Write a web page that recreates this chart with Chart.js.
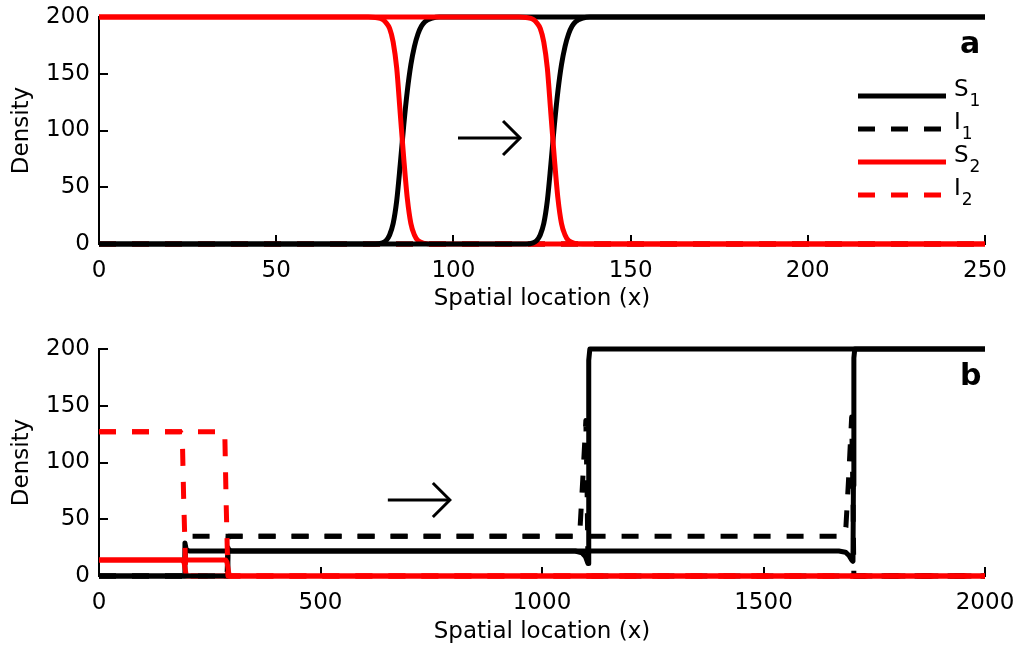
<!DOCTYPE html>
<html><head><meta charset="utf-8">
<script src="https://cdn.jsdelivr.net/npm/chart.js@4"></script>
<style>
html,body{margin:0;padding:0;background:#fff;}
#wrap{position:relative;width:1022px;height:655px;background:#fff;overflow:hidden;}
canvas{position:absolute;left:0;}
#ca{top:0;}
#cb{top:327px;}
</style></head><body>
<div id="wrap"><canvas id="ca" width="1022" height="327"></canvas><canvas id="cb" width="1022" height="328"></canvas></div>
<script>
// ---------- Panel a data (two snapshots of the travelling front) ----------
const aXTicks = [0, 50, 100, 150, 200, 250];
const yTicks = [0, 50, 100, 150, 200];
const aS1t1X = [0, 78, 80, 81, 82, 83, 84, 85, 86, 87, 88, 89, 90, 91, 92, 94, 96, 250];
const aS1t1Y = [0, 0, 1, 3, 8, 18, 38, 70, 105, 135, 158, 174, 185, 192, 196, 199, 200, 200];
const aS2t1X = [0, 76, 78, 80, 81, 82, 83, 84, 85, 86, 87, 88, 89, 90, 92, 94, 250];
const aS2t1Y = [200, 200, 199.5, 198, 195, 190, 178, 155, 115, 75, 40, 18, 8, 3, 0.5, 0, 0];
const aS1t2X = [0, 120.5, 122.5, 123.5, 124.5, 125.5, 126.5, 127.5, 128.5, 129.5, 130.5, 131.5, 132.5, 133.5, 134.5, 136.5, 138.5, 250];
const aS1t2Y = [0, 0, 1, 3, 8, 18, 38, 70, 105, 135, 158, 174, 185, 192, 196, 199, 200, 200];
const aS2t2X = [0, 118.5, 120.5, 122.5, 123.5, 124.5, 125.5, 126.5, 127.5, 128.5, 129.5, 130.5, 131.5, 132.5, 134.5, 136.5, 250];
const aS2t2Y = [200, 200, 199.5, 198, 195, 190, 178, 155, 115, 75, 40, 18, 8, 3, 0.5, 0, 0];
const aI1X = [0, 250];
const aI1Y = [0, 0];
const aI2X = [0, 250];
const aI2Y = [0, 0];

// ---------- Panel b data (two snapshots) ----------
const bXTicks = [0, 500, 1000, 1500, 2000];
const bS1aX = [0, 192, 194, 197, 205, 1075, 1090, 1098, 1102, 1104, 1105, 1106, 1108, 2000];
const bS1aY = [0, 0, 29, 23, 22, 22, 20.5, 17, 13, 11, 60, 190, 200, 200];
const bI1aX = [0, 193, 196, 1080, 1086, 1092, 1099, 1102, 1104, 2000];
const bI1aY = [0, 0, 35, 35, 43, 85, 137, 70, 0, 0];
const bS2aX = [0, 188, 192, 195, 197, 2000];
const bS2aY = [14, 14, 12, 5, 0, 0];
const bI2aX = [0, 184, 188, 191, 196, 2000];
const bI2aY = [127, 127, 124, 70, 0, 0];
const bS1bX = [0, 289, 291, 294, 300, 1670, 1685, 1693, 1699, 1702, 1703, 1704, 1706, 2000];
const bS1bY = [0, 0, 25, 22.5, 22, 22, 21, 18, 14, 13, 80, 192, 200, 200];
const bI1bX = [0, 289, 292, 1680, 1686, 1692, 1699, 1702, 1704, 2000];
const bI1bY = [0, 0, 35, 35, 43, 85, 140, 70, 0, 0];
const bS2bX = [0, 286, 289, 292, 294, 2000];
const bS2bY = [14, 14, 12, 5, 0, 0];
const bI2bX = [0, 280, 284, 287, 291, 2000];
const bI2bY = [127, 127, 125, 65, 0, 0];

const seriesNames = ['S1', 'I1', 'S2', 'I2'];

// ---------- helpers ----------
const pts = (xs, ys) => xs.map((x, i) => ({x: x, y: ys[i]}));
const BLACK = '#000000', RED = '#ff0000';
const DASH = [17, 16];
function ds(label, xs, ys, color, dashed, smooth) {
  return {
    label: label, data: pts(xs, ys), borderColor: color, backgroundColor: color,
    borderWidth: 5, borderDash: dashed ? DASH : [], borderCapStyle: 'butt', borderJoinStyle: 'round',
    pointRadius: 0, pointHoverRadius: 0, fill: false, clip: false,
    cubicInterpolationMode: smooth ? 'monotone' : 'default', tension: 0
  };
}

Chart.defaults.font.family = "'DejaVu Sans', sans-serif";
Chart.defaults.font.size = 23;
Chart.defaults.color = '#000';

const arrowPlugin = {
  id: 'arrow',
  afterDatasetsDraw(chart, args, o) {
    const xs = chart.scales.x, ys = chart.scales.y, ctx = chart.ctx;
    const x1 = xs.getPixelForValue(o.x1), x2 = xs.getPixelForValue(o.x2), y = ys.getPixelForValue(o.y);
    ctx.save();
    ctx.strokeStyle = '#000'; ctx.lineWidth = 3; ctx.lineCap = 'butt'; ctx.lineJoin = 'miter';
    ctx.beginPath(); ctx.moveTo(x1, y); ctx.lineTo(x2, y); ctx.stroke();
    ctx.beginPath(); ctx.moveTo(x2 - 17, y - 17); ctx.lineTo(x2, y); ctx.lineTo(x2 - 17, y + 17); ctx.stroke();
    ctx.restore();
  }
};
const panelLabel = {
  id: 'panelLabel',
  afterDatasetsDraw(chart, args, o) {
    const ca = chart.chartArea, ctx = chart.ctx;
    ctx.save();
    ctx.fillStyle = '#000';
    ctx.font = "bold 30px 'DejaVu Sans', sans-serif";
    ctx.textAlign = 'left'; ctx.textBaseline = 'alphabetic';
    ctx.fillText(o.text, ca.right + o.dx, ca.top + o.dy);
    ctx.restore();
  }
};
const subLegend = {
  id: 'subLegend',
  afterDatasetsDraw(chart, args, o) {
    if (!o.names) return;
    const ca = chart.chartArea, ctx = chart.ctx;
    o.names.forEach((name, i) => {
      const d = chart.data.datasets.find(s => s.label === name);
      if (!d) return;
      const y = ca.top + o.y0 + i * o.dy;
      const x0 = ca.right + o.x0;
      ctx.save();
      ctx.strokeStyle = d.borderColor; ctx.lineWidth = d.borderWidth; ctx.lineCap = 'butt';
      ctx.setLineDash(d.borderDash || []);
      ctx.beginPath(); ctx.moveTo(x0, y); ctx.lineTo(x0 + o.len, y); ctx.stroke();
      ctx.setLineDash([]);
      ctx.fillStyle = '#000'; ctx.textAlign = 'left'; ctx.textBaseline = 'alphabetic';
      const main = name.charAt(0), sub = name.slice(1);
      ctx.font = "23px 'DejaVu Sans', sans-serif";
      const tx = ca.right + o.tx;
      ctx.fillText(main, tx, y);
      const w = ctx.measureText(main).width;
      ctx.font = "17px 'DejaVu Sans', sans-serif";
      ctx.fillText(sub, tx + w + 1, y + 10);
      ctx.restore();
    });
  }
};

function zeroPad(s) { s.paddingTop = 0; s.paddingBottom = 0; s.paddingLeft = 0; s.paddingRight = 0; }

function scalesFor(xmax, xticks, xHeight, titlePadBottom) {
  const gridOpt = {display: true, drawOnChartArea: false, drawTicks: true, tickLength: -9, color: '#000', lineWidth: 2};
  const borderOpt = {display: true, color: '#000', width: 2};
  return {
    x: {
      type: 'linear', min: 0, max: xmax,
      afterBuildTicks: s => { s.ticks = xticks.map(v => ({value: v})); },
      ticks: {padding: 22, color: '#000', maxRotation: 0, autoSkip: false, font: {size: 23}, callback: v => String(v)},
      grid: gridOpt, border: borderOpt,
      title: {display: true, text: 'Spatial location (x)', color: '#000', font: {size: 23}, padding: {top: 0, bottom: titlePadBottom}},
      afterFit: s => { s.height = xHeight; zeroPad(s); }
    },
    y: {
      type: 'linear', min: 0, max: 200,
      afterBuildTicks: s => { s.ticks = yTicks.map(v => ({value: v})); },
      ticks: {padding: 18, color: '#000', font: {size: 23}, callback: v => String(v)},
      grid: gridOpt, border: borderOpt,
      title: {display: true, text: 'Density', color: '#000', font: {size: 23}, padding: {top: 8, bottom: 0}},
      afterFit: s => { s.width = 99; zeroPad(s); }
    }
  };
}

// Chart.js draws the first dataset on top, so datasets are listed top-most first.
// ---------- Chart a ----------
new Chart(document.getElementById('ca'), {
  type: 'line',
  data: {datasets: [
    ds('S2', aS2t2X, aS2t2Y, RED, false, true),
    ds('S1', aS1t2X, aS1t2Y, BLACK, false, true),
    ds('S2', aS2t1X, aS2t1Y, RED, false, true),
    ds('S1', aS1t1X, aS1t1Y, BLACK, false, true),
    ds('I2', aI2X, aI2Y, RED, true, false),
    ds('I1', aI1X, aI1Y, BLACK, true, false)
  ]},
  options: {
    responsive: false, animation: false, devicePixelRatio: 1,
    layout: {autoPadding: false, padding: {top: 17, right: 37, left: 0, bottom: 0}},
    scales: scalesFor(250, aXTicks, 83, 14),
    plugins: {
      legend: {display: false}, tooltip: {enabled: false},
      arrow: {x1: 101.3, x2: 118.8, y: 93.4},
      panelLabel: {text: 'a', dx: -25, dy: 36},
      subLegend: {names: seriesNames, x0: -127, y0: 79, dy: 33, len: 88, tx: -31}
    },
    events: []
  },
  plugins: [arrowPlugin, panelLabel, subLegend]
});

// ---------- Chart b ----------
new Chart(document.getElementById('cb'), {
  type: 'line',
  data: {datasets: [
    ds('I2', bI2bX, bI2bY, RED, true, false),
    ds('S2', bS2bX, bS2bY, RED, false, false),
    ds('I1', bI1bX, bI1bY, BLACK, true, false),
    ds('S1', bS1bX, bS1bY, BLACK, false, false),
    ds('I2', bI2aX, bI2aY, RED, true, false),
    ds('S2', bS2aX, bS2aY, RED, false, false),
    ds('I1', bI1aX, bI1aY, BLACK, true, false),
    ds('S1', bS1aX, bS1aY, BLACK, false, false)
  ]},
  options: {
    responsive: false, animation: false, devicePixelRatio: 1,
    layout: {autoPadding: false, padding: {top: 22, right: 37, left: 0, bottom: 0}},
    scales: scalesFor(2000, bXTicks, 79, 9),
    plugins: {
      legend: {display: false}, tooltip: {enabled: false},
      arrow: {x1: 652, x2: 792, y: 67},
      panelLabel: {text: 'b', dx: -25, dy: 36},
      subLegend: {names: null}
    },
    events: []
  },
  plugins: [arrowPlugin, panelLabel, subLegend]
});
</script>
</body></html>
